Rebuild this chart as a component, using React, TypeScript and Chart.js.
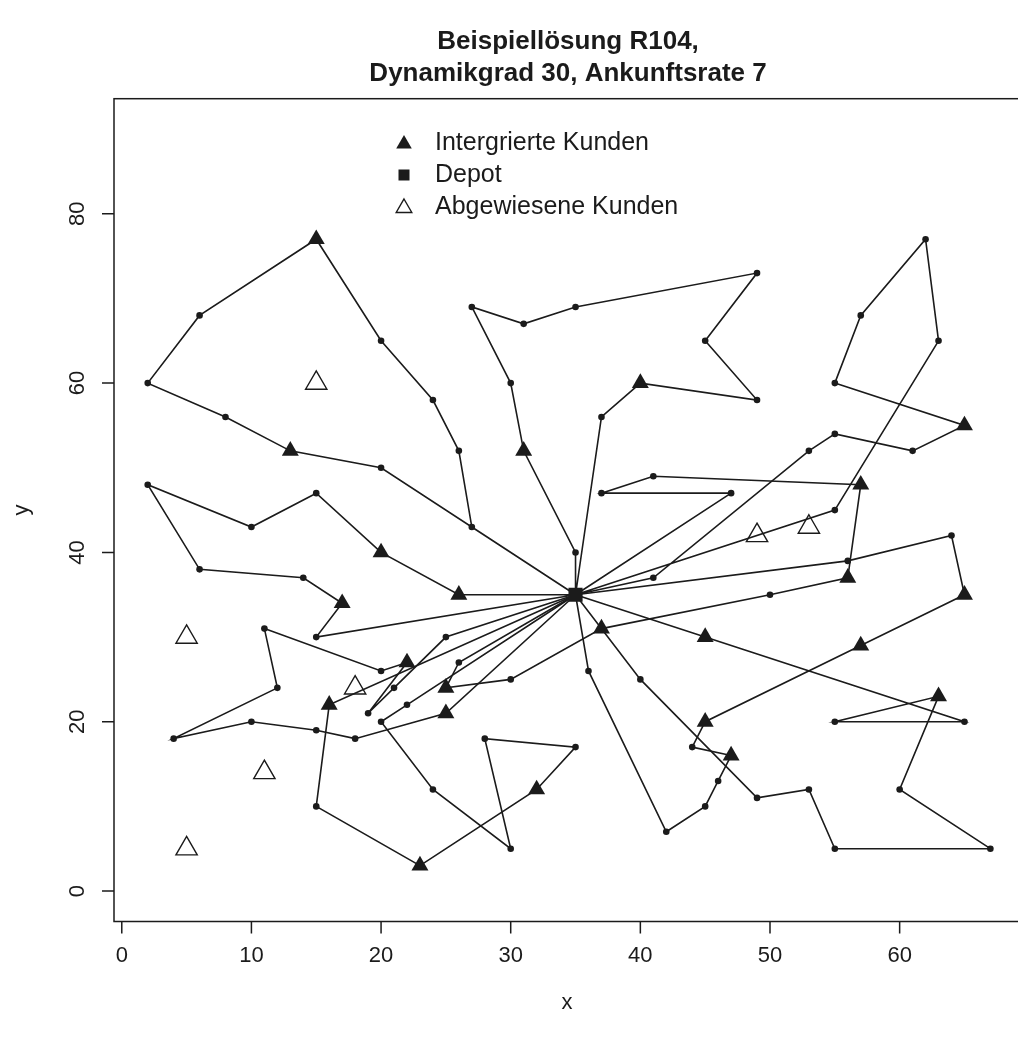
import React, { useEffect, useRef } from "react";
import { Chart, registerables } from "chart.js";

Chart.register(...registerables);

type Pt = [number, number];

// Depot and the nine vehicle tours (customer coordinates in visiting order)
const depot: Pt = [35, 35];
const tour1: Pt[] = [[27, 43], [26, 52], [24, 58], [20, 65], [15, 77], [6, 68], [2, 60], [8, 56], [13, 52], [20, 50]];
const tour2: Pt[] = [[35, 40], [31, 52], [30, 60], [27, 69], [31, 67], [35, 69], [49, 73], [45, 65], [49, 58], [40, 60], [37, 56]];
const tour3: Pt[] = [[41, 37], [53, 52], [55, 54], [61, 52], [65, 55], [55, 60], [57, 68], [62, 77], [63, 65], [55, 45]];
const tour4: Pt[] = [[26, 35], [20, 40], [15, 47], [10, 43], [2, 48], [6, 38], [14, 37], [17, 34], [15, 30]];
const tour5: Pt[] = [[40, 25], [49, 11], [53, 12], [55, 5], [67, 5], [60, 12], [63, 23], [55, 20], [65, 20], [45, 30]];
const tour6: Pt[] = [[36, 26], [42, 7], [45, 10], [46, 13], [47, 16], [44, 17], [45, 20], [57, 29], [65, 35], [64, 42], [56, 39]];
const tour7: Pt[] = [[47, 47], [37, 47], [41, 49], [57, 48], [56, 37], [50, 35], [37, 31], [30, 25], [25, 24], [26, 27]];
const tour8: Pt[] = [[16, 22], [15, 10], [23, 3], [32, 12], [35, 17], [28, 18], [30, 5], [24, 12], [20, 20], [22, 22]];
const tour9: Pt[] = [[25, 21], [18, 18], [15, 19], [10, 20], [4, 18], [12, 24], [11, 31], [20, 26], [22, 27], [19, 21], [21, 24], [25, 30]];

const tours: Pt[][] = [tour1, tour2, tour3, tour4, tour5, tour6, tour7, tour8, tour9];

// Dynamic customers that were inserted into a tour
const integrated: Pt[] = [
  [15, 77], [13, 52], [31, 52], [40, 60], [65, 55], [57, 48], [56, 37], [65, 35],
  [45, 30], [57, 29], [63, 23], [20, 40], [17, 34], [26, 35], [37, 31], [22, 27],
  [16, 22], [25, 24], [25, 21], [23, 3], [32, 12], [45, 20], [47, 16],
];

// Dynamic customers that were turned away
const rejected: Pt[] = [[15, 60], [49, 42], [53, 43], [5, 30], [18, 24], [11, 14], [5, 5]];

const xTicks = [0, 10, 20, 30, 40, 50, 60];
const yTicks = [0, 20, 40, 60, 80];

const titleLines = ["Beispiellösung R104,", "Dynamikgrad 30, Ankunftsrate 7"];
const legendLabels = ["Intergrierte Kunden", "Depot", "Abgewiesene Kunden"];
const xTitle = "x";
const yTitle = "y";

const INK = "#1b1b1b";
const FONT = '"Liberation Sans", Arial, Helvetica, sans-serif';

const toXY = (p: Pt) => ({ x: p[0], y: p[1] });
const same = (a: Pt, b: Pt) => a[0] === b[0] && a[1] === b[1];

function drawTriangle(ctx: CanvasRenderingContext2D, x: number, y: number, r: number, filled: boolean) {
  ctx.beginPath();
  ctx.moveTo(x, y - r);
  ctx.lineTo(x + r * 0.866, y + r / 2);
  ctx.lineTo(x - r * 0.866, y + r / 2);
  ctx.closePath();
  if (filled) {
    ctx.fillStyle = INK;
    ctx.fill();
  } else {
    ctx.lineWidth = 1.4;
    ctx.strokeStyle = INK;
    ctx.stroke();
  }
}

const framePlugin = {
  id: "rFrame",
  afterDraw(chart: any) {
    const { ctx, chartArea: a, scales } = chart;
    const xs = scales.x;
    const ys = scales.y;
    ctx.save();
    ctx.strokeStyle = INK;
    ctx.fillStyle = INK;
    ctx.lineWidth = 1.5;
    ctx.strokeRect(a.left, a.top, a.right - a.left, a.bottom - a.top);

    // x axis ticks and labels
    ctx.font = `22px ${FONT}`;
    ctx.textAlign = "center";
    ctx.textBaseline = "middle";
    ctx.beginPath();
    for (const t of xTicks) {
      const px = xs.getPixelForValue(t);
      ctx.moveTo(px, a.bottom);
      ctx.lineTo(px, a.bottom + 12);
    }
    ctx.stroke();
    for (const t of xTicks) {
      ctx.fillText(String(t), xs.getPixelForValue(t), 956);
    }

    // y axis ticks and rotated labels
    ctx.beginPath();
    for (const t of yTicks) {
      const py = ys.getPixelForValue(t);
      ctx.moveTo(a.left, py);
      ctx.lineTo(a.left - 12, py);
    }
    ctx.stroke();
    for (const t of yTicks) {
      ctx.save();
      ctx.translate(78, ys.getPixelForValue(t));
      ctx.rotate(-Math.PI / 2);
      ctx.fillText(String(t), 0, 0);
      ctx.restore();
    }

    // axis titles
    ctx.fillText(xTitle, (a.left + a.right) / 2 - 2, 1003);
    ctx.save();
    ctx.translate(22, (a.top + a.bottom) / 2);
    ctx.rotate(-Math.PI / 2);
    ctx.fillText(yTitle, 0, 0);
    ctx.restore();

    // main title
    ctx.font = `bold 26px ${FONT}`;
    const cx = (a.left + a.right) / 2 - 1;
    ctx.fillText(titleLines[0], cx, 42);
    ctx.fillText(titleLines[1], cx, 74);

    // legend
    const lx = 404;
    const tx = 435;
    const rows = [143, 175, 207];
    drawTriangle(ctx, lx, rows[0] + 1, 9, true);
    ctx.fillStyle = INK;
    ctx.fillRect(lx - 5.5, rows[1] - 5.5, 11, 11);
    drawTriangle(ctx, lx, rows[2] + 1, 9, false);
    ctx.fillStyle = INK;
    ctx.font = `25px ${FONT}`;
    ctx.textAlign = "left";
    legendLabels.forEach((s, i) => ctx.fillText(s, tx, rows[i]));
    ctx.restore();
  },
};

export default function App() {
  const canvasRef = useRef<HTMLCanvasElement | null>(null);

  useEffect(() => {
    const canvas = canvasRef.current;
    if (!canvas) return;

    const staticStops = tours
      .flat()
      .filter((p) => !integrated.some((q) => same(p, q)))
      .map(toXY);

    const routeSets = tours.map((t) => ({
      type: "scatter" as const,
      data: [depot, ...t, depot].map(toXY),
      showLine: true,
      borderColor: INK,
      borderWidth: 1.6,
      pointRadius: 0,
      fill: false,
      order: 3,
    }));

    const chart = new Chart(canvas, {
      type: "scatter",
      data: {
        datasets: [
          {
            data: rejected.map(toXY),
            pointStyle: "triangle",
            pointRadius: 12.3,
            backgroundColor: "rgba(0,0,0,0)",
            borderColor: INK,
            borderWidth: 1.4,
            order: 0,
          },
          {
            data: integrated.map(toXY),
            pointStyle: "triangle",
            pointRadius: 9.8,
            backgroundColor: INK,
            borderColor: INK,
            borderWidth: 0,
            order: 0,
          },
          {
            data: [toXY(depot)],
            pointStyle: "rect",
            pointRadius: 10,
            backgroundColor: INK,
            borderColor: INK,
            borderWidth: 0,
            order: 0,
          },
          {
            data: staticStops,
            pointStyle: "circle",
            pointRadius: 3.3,
            backgroundColor: INK,
            borderColor: INK,
            borderWidth: 0,
            order: 1,
          },
          ...routeSets,
        ],
      },
      options: {
        animation: false,
        responsive: false,
        devicePixelRatio: 1,
        layout: { padding: { left: 114, top: 98.7, right: 15.9, bottom: 120.5 } },
        scales: {
          x: { type: "linear", min: -0.6, max: 69.6, display: false },
          y: { type: "linear", min: -3.6, max: 93.6, display: false },
        },
        plugins: {
          legend: { display: false },
          tooltip: { enabled: false },
          title: { display: false },
        },
        elements: { line: { tension: 0 } },
      },
      plugins: [framePlugin],
    });

    return () => chart.destroy();
  }, []);

  return (
    <div style={{ position: "fixed", left: 0, top: 0, width: 1018, height: 1042, overflow: "hidden", background: "#fff" }}>
      <canvas ref={canvasRef} width={1040} height={1042} style={{ display: "block", width: 1040, height: 1042 }} />
    </div>
  );
}
